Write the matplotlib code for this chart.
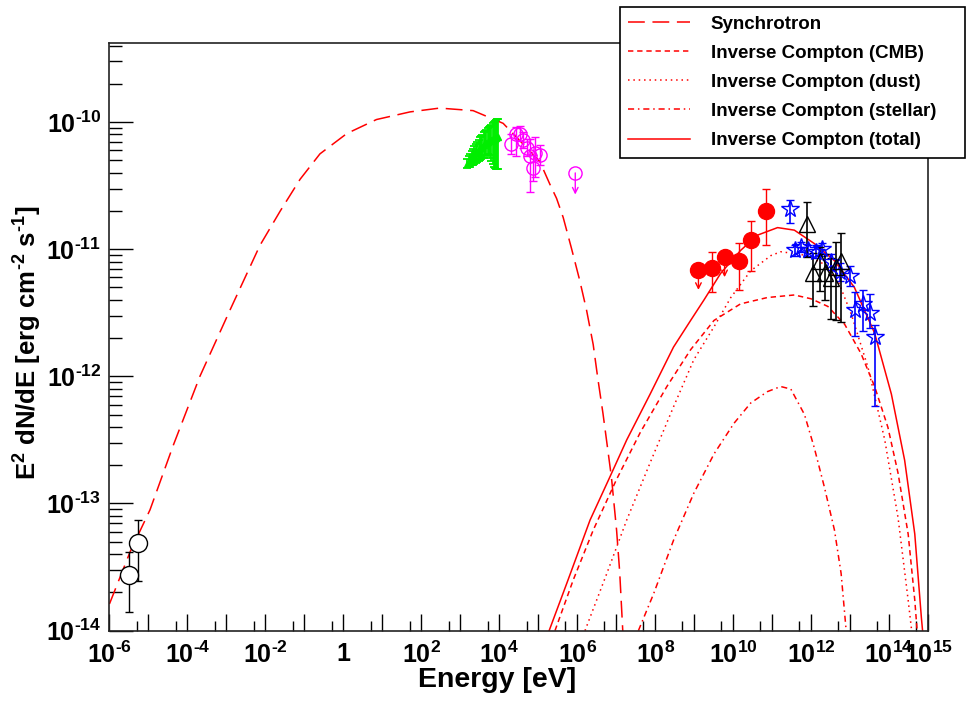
import numpy as np
import matplotlib
matplotlib.use('Agg')
import matplotlib.pyplot as plt
from matplotlib.lines import Line2D
from matplotlib.ticker import FixedLocator, FuncFormatter, NullFormatter

plt.rcParams['font.family'] = ['Liberation Sans', 'DejaVu Sans']
plt.rcParams['font.weight'] = 'bold'
plt.rcParams['mathtext.fontset'] = 'custom'
plt.rcParams['mathtext.rm'] = 'Liberation Sans:bold'
plt.rcParams['mathtext.it'] = 'Liberation Sans:bold'
plt.rcParams['mathtext.bf'] = 'Liberation Sans:bold'
plt.rcParams['mathtext.default'] = 'rm'

# model curves as log10(E/eV) and log10(E^2 dN/dE)
sync_logE = [-6.0, -5.47, -4.96, -4.36, -3.68, -2.91, -2.14, -1.62, -1.11, -0.60, 0.09, 0.85,
             1.71, 2.47, 3.33, 4.10, 5.04, 5.30, 5.47, 5.64, 5.85, 6.06, 6.24, 6.41, 6.53,
             6.66, 6.79, 6.88, 7.01, 7.09, 7.17]
sync_logF = [-13.79, -13.38, -13.05, -12.54, -12.00, -11.48, -10.97, -10.70, -10.45, -10.25,
             -10.09, -9.98, -9.92, -9.89, -9.91, -10.01, -10.31, -10.49, -10.60, -10.75,
             -10.99, -11.24, -11.48, -11.75, -12.02, -12.29, -12.59, -12.80, -13.21, -13.54, -14.01]

ic_tot_logE = [5.28, 5.73, 6.33, 6.84, 7.27, 7.87, 8.47, 8.91, 9.25, 9.68, 10.19, 10.62, 11.14,
               11.57, 12.08, 12.60, 13.11, 13.63, 14.06, 14.40, 14.66, 14.83, 14.86]
ic_tot_logF = [-14.00, -13.63, -13.13, -12.79, -12.50, -12.14, -11.77, -11.56, -11.40, -11.19,
               -11.01, -10.89, -10.83, -10.85, -10.955, -11.09, -11.30, -11.66, -12.14, -12.66,
               -13.24, -13.90, -14.00]

ic_cmb_logE = [5.43, 5.90, 6.41, 7.01, 7.62, 8.30, 8.91, 9.51, 10.19, 10.88, 11.57, 12.00, 12.43,
               12.86, 13.28, 13.63, 13.97, 14.23, 14.49, 14.66, 14.72]
ic_cmb_logF = [-14.00, -13.60, -13.21, -12.81, -12.44, -12.08, -11.79, -11.56, -11.43, -11.38,
               -11.36, -11.39, -11.45, -11.59, -11.82, -12.08, -12.40, -12.76, -13.24, -13.76, -14.00]

ic_dust_logE = [6.20, 6.76, 7.27, 7.87, 8.47, 8.99, 9.51, 9.94, 10.45, 10.97, 11.22, 11.74, 12.25,
                12.68, 13.03, 13.46, 13.89, 14.23, 14.49, 14.58]
ic_dust_logF = [-14.00, -13.55, -13.13, -12.68, -12.24, -11.87, -11.61, -11.38, -11.17, -11.05,
                -11.02, -11.04, -11.10, -11.24, -11.51, -11.93, -12.50, -13.11, -13.76, -14.00]

ic_star_logE = [7.57, 7.96, 8.47, 8.99, 9.51, 10.02, 10.45, 10.88, 11.22, 11.48, 11.83, 12.08,
                12.34, 12.60, 12.77, 12.90]
ic_star_logF = [-14.00, -13.71, -13.29, -12.92, -12.61, -12.37, -12.21, -12.12, -12.08, -12.10,
                -12.30, -12.56, -12.87, -13.21, -13.55, -14.00]

# radio points (log10 values): E, F, lower end, upper end of error bar
radio_logE = [-5.49, -5.26]
radio_logF = [-13.56, -13.31]
radio_lo = [-13.85, -13.61]
radio_hi = [-13.38, -13.13]

# X-ray spectrum, fluxes in units of 1e-11
xray_E = [1500, 1650, 1800, 1950, 2100, 2300, 2500, 2700, 2950, 3200, 3450, 3700, 4000,
          4300, 4650, 5000, 5400, 5800, 6300, 6800, 7300, 7800, 8300, 8800, 9300]
xray_F = [4.7, 4.85, 5.0, 5.2, 5.35, 5.5, 5.7, 5.8, 6.0, 6.2, 6.3, 6.4, 6.6, 6.8, 6.9, 7.0,
          7.1, 7.1, 7.2, 7.3, 7.3, 7.4, 7.5, 7.6, 7.7]
xray_lo = [4.37, 4.41, 4.47, 4.57, 4.62, 4.68, 4.79, 4.84, 4.90, 5.01, 5.13, 5.19, 5.25, 5.37,
           5.50, 5.56, 5.50, 5.25, 4.90, 4.68, 4.47, 4.37, 4.27, 4.27, 4.27]
xray_hi = [5.13, 5.37, 5.62, 5.89, 6.17, 6.46, 6.76, 6.92, 7.24, 7.59, 7.76, 7.94, 8.32, 8.51,
           8.71, 8.91, 9.12, 9.33, 9.55, 9.77, 10.0, 10.2, 10.3, 10.5, 10.6]

# hard X-ray points (log10)
hx_logE = [4.31, 4.42, 4.53, 4.62, 4.71, 4.78, 4.86, 4.91, 5.04]
hx_logF = [-10.17, -10.09, -10.09, -10.14, -10.20, -10.27, -10.36, -10.24, -10.26]
hx_lo = [-10.25, -10.27, -10.15, -10.20, -10.27, -10.55, -10.46, -10.43, -10.34]
hx_hi = [-10.09, -10.04, -10.03, -10.08, -10.13, -10.13, -10.26, -10.12, -10.18]
hx_ul_logE = [5.95]
hx_ul_logF = [-10.40]

# GeV points (log10), upper limits separately
gev_logE = [9.47, 10.14, 10.47, 10.84]
gev_logF = [-11.15, -11.09, -10.93, -10.70]
gev_lo = [-11.34, -11.32, -11.17, -10.97]
gev_hi = [-11.02, -10.95, -10.78, -10.53]
gev_ul_logE = [9.11, 9.78]
gev_ul_logF = [-11.16, -11.06]

# TeV points, stars (log10)
st_logE = [11.46, 11.58, 11.73, 11.91, 12.12, 12.29, 12.50, 12.73, 12.99, 13.12, 13.32, 13.50, 13.63]
st_logF = [-10.685, -11.01, -10.98, -11.01, -11.02, -11.00, -11.10, -11.18, -11.21, -11.48,
           -11.43, -11.50, -11.69]
st_lo = [-10.79, -11.05, -11.02, -11.05, -11.07, -11.05, -11.16, -11.25, -11.29, -11.68,
         -11.64, -11.62, -12.23]
st_hi = [-10.61, -10.97, -10.94, -10.97, -10.97, -10.95, -11.04, -11.11, -11.13, -11.34,
         -11.32, -11.35, -11.60]

# TeV points, triangles (log10)
tr_logE = [11.89, 12.04, 12.24, 12.35, 12.51, 12.64, 12.77]
tr_logF = [-10.80, -11.19, -11.09, -11.19, -11.23, -11.14, -11.09]
tr_lo = [-11.06, -11.45, -11.33, -11.40, -11.55, -11.56, -11.57]
tr_hi = [-10.63, -11.03, -10.98, -11.04, -11.07, -10.94, -10.87]

legend_labels = ['Synchrotron', 'Inverse Compton (CMB)', 'Inverse Compton (dust)',
                 'Inverse Compton (stellar)', 'Inverse Compton (total)']

HY = '\u2010'  # short hyphen, as ROOT prints exponents


def p10(a):
    return 10.0 ** np.array(a, dtype=float)


def yerr(f, lo, hi):
    f = p10(f)
    return [f - p10(lo), p10(hi) - f]


def pow_label(e):
    return '$10^{' + str(e).replace('-', HY) + '}$'


fig = plt.figure(figsize=(9.67, 7.01), dpi=100)
ax = fig.add_axes([0.1132, 0.1004, 0.8465, 0.8383])
ax.set_xscale('log')
ax.set_yscale('log')
ax.set_xlim(1e-6, 1e15)
ax.set_ylim(1e-14, 4.19e-10)

red = '#ff0000'
styles = [dict(dashes=(11, 5)), dict(dashes=(3.5, 2.5)), dict(dashes=(1, 2.5)),
          dict(dashes=(4, 2.5, 1, 2.5)), dict(linestyle='-')]
curves = [(sync_logE, sync_logF), (ic_cmb_logE, ic_cmb_logF), (ic_dust_logE, ic_dust_logF),
          (ic_star_logE, ic_star_logF), (ic_tot_logE, ic_tot_logF)]
for (lx, ly), st in zip(curves, styles):
    ax.plot(p10(lx), p10(ly), color=red, lw=1.1, **st)

# radio
ax.errorbar(p10(radio_logE), p10(radio_logF), yerr=yerr(radio_logF, radio_lo, radio_hi),
            fmt='o', ms=13, mfc='white', mec='black', mew=1, ecolor='black',
            elinewidth=1, capsize=3, capthick=1, zorder=5)

# X-ray
xf = np.array(xray_F) * 1e-11
ax.errorbar(xray_E, xf, yerr=[xf - np.array(xray_lo) * 1e-11, np.array(xray_hi) * 1e-11 - xf],
            fmt='^', ms=4, color='#00ee00', ecolor='#00ee00', elinewidth=1.3,
            capsize=3, capthick=1.3, zorder=4)

# hard X-ray
mag = '#ff00ff'
ax.errorbar(p10(hx_logE), p10(hx_logF), yerr=yerr(hx_logF, hx_lo, hx_hi),
            fmt='o', ms=9.5, mfc='none', mec=mag, mew=1, ecolor=mag,
            elinewidth=1, capsize=3, capthick=1, zorder=4)
ax.plot(p10(hx_ul_logE), p10(hx_ul_logF), 'o', ms=9.5, mfc='none', mec=mag, mew=1, zorder=4)
for lx, ly in zip(hx_ul_logE, hx_ul_logF):
    ax.annotate('', xy=(10 ** lx, 10 ** (ly - 0.17)), xytext=(10 ** lx, 10 ** ly),
                arrowprops=dict(arrowstyle='->', color=mag, lw=1, shrinkA=0, shrinkB=0))

# GeV
ax.errorbar(p10(gev_logE), p10(gev_logF), yerr=yerr(gev_logF, gev_lo, gev_hi),
            fmt='o', ms=11.5, color=red, ecolor=red, elinewidth=1, capsize=3, capthick=1, zorder=5)
ax.plot(p10(gev_ul_logE), p10(gev_ul_logF), 'o', ms=11.5, color=red, zorder=5)
for lx, ly in zip(gev_ul_logE, gev_ul_logF):
    ax.annotate('', xy=(10 ** lx, 10 ** (ly - 0.16)), xytext=(10 ** lx, 10 ** ly),
                arrowprops=dict(arrowstyle='->', color=red, lw=1, shrinkA=0, shrinkB=0))

# TeV
ax.errorbar(p10(st_logE), p10(st_logF), yerr=yerr(st_logF, st_lo, st_hi),
            fmt='*', ms=13, mfc='none', mec='blue', mew=1, ecolor='blue',
            elinewidth=1.2, capsize=3, capthick=1.2, zorder=6)
ax.errorbar(p10(tr_logE), p10(tr_logF), yerr=yerr(tr_logF, tr_lo, tr_hi),
            fmt='^', ms=11, mfc='none', mec='black', mew=1, ecolor='black',
            elinewidth=1.2, capsize=3, capthick=1.2, zorder=6)

# axes / ticks
xmaj = [10.0 ** e for e in range(-6, 16)]
xmin = [5 * 10.0 ** e for e in range(-6, 15)]
ax.xaxis.set_major_locator(FixedLocator(xmaj))
ax.xaxis.set_minor_locator(FixedLocator(xmin))
ax.xaxis.set_minor_formatter(NullFormatter())


def xfmt(v, pos):
    e = int(round(np.log10(v)))
    if e == 0:
        return '1'
    if e % 2 == 0 or e == 15:
        return pow_label(e)
    return ''


ax.xaxis.set_major_formatter(FuncFormatter(xfmt))
ymaj = [10.0 ** e for e in range(-14, -9)]
ymin = [m * 10.0 ** e for e in range(-14, -9) for m in range(2, 10)]
ax.yaxis.set_major_locator(FixedLocator(ymaj))
ax.yaxis.set_minor_locator(FixedLocator(ymin))
ax.yaxis.set_minor_formatter(NullFormatter())
ax.yaxis.set_major_formatter(FuncFormatter(lambda v, p: pow_label(int(round(np.log10(v))))))

ax.tick_params(which='both', direction='in', top=False, right=False, labelsize=18, width=1)
ax.tick_params(axis='x', which='major', length=12, pad=8)
ax.tick_params(axis='x', which='minor', length=7)
ax.tick_params(axis='y', which='major', length=17, pad=6)
ax.tick_params(axis='y', which='minor', length=9)
for s in ax.spines.values():
    s.set_linewidth(1.2)
    s.set_color('#222222')

ax.set_xlabel('Energy [eV]', fontsize=20.5, fontweight='bold')
ax.xaxis.set_label_coords(0.473, -0.062)
ax.set_ylabel('E$^{2}$ dN/dE [erg cm$^{' + HY + '2}$ s$^{' + HY + '1}$]',
              fontsize=18.5, fontweight='bold')
ax.yaxis.set_label_coords(-0.08, 0.49)

handles = [Line2D([], [], color=red, lw=1.1, **st) for st in styles]
leg = fig.legend(handles, legend_labels, loc='upper left',
                 bbox_to_anchor=(0.641, 0.779, 0.357, 0.211), mode='expand',
                 prop={'weight': 'bold', 'size': 13.5},
                 handlelength=3.3, handletextpad=1.1, labelspacing=0.64, borderpad=0.45,
                 fancybox=False, framealpha=1, edgecolor='black', borderaxespad=0)
leg.get_frame().set_linewidth(1.2)

fig.savefig('out.png', dpi=100)
